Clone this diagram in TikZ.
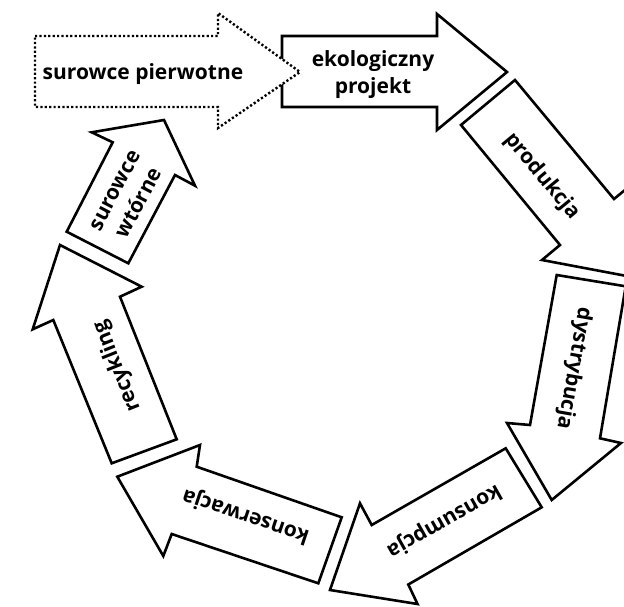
\documentclass[tikz,border=0pt]{standalone}
\usepackage{fontspec}
\setmainfont{Open Sans}
\begin{document}
\begin{tikzpicture}[x=1pt,y=-1pt,
  flow/.style={draw=black, line width=2.6pt, fill=white, line join=miter},
  feed/.style={flow, line width=2.4pt, dash pattern=on 2.2pt off 2.2pt},
  lbl/.style={font=\bfseries\fontsize{21}{27}\selectfont, align=center, inner sep=0pt, text depth=0pt}]
\useasboundingbox (0,0) rectangle (624,606);
\clip (0,0) rectangle (624,606);
\fill[white] (0,0) rectangle (624,606);

% the cycle, one arrow per stage
\draw[flow] (282,36) -- (437,36) -- (437,14) -- (507,72) -- (437,130) -- (437,107) -- (282,107) -- cycle;
\draw[flow] (461,125) -- (560,245) -- (542,260) -- (632,277) -- (631,185) -- (614,199) -- (515,80) -- cycle;
\draw[flow] (556.7,275) -- (530,425) -- (507,423) -- (551.7,500) -- (621,443) -- (600,438.3) -- (625.7,286.3) -- cycle;
\draw[flow] (505.7,448.3) -- (371.7,525) -- (360,503.3) -- (330,590) -- (417.5,604) -- (408.3,584.5) -- (541.7,507.3) -- cycle;
\draw[flow] (341.7,517.3) -- (196.7,466.7) -- (200,445) -- (117.3,476.7) -- (163.3,556) -- (171.7,534) -- (318.3,583.3) -- cycle;
\draw[flow] (111.7,463.3) -- (53.3,320) -- (32.7,329.3) -- (60,245) -- (141.7,286.7) -- (120,296.7) -- (176.7,439.3) -- cycle;
\draw[flow] (66.7,231.7) -- (112.7,142.3) -- (91.7,132.3) -- (164,120) -- (195,185.7) -- (175,175) -- (128.3,263.3) -- cycle;

% primary raw materials feeding in
\draw[feed] (35,36) -- (218,36) -- (218,13) -- (300,72) -- (218,128) -- (218,107) -- (35,107) -- cycle;

% labels
\node[lbl] (pierwotne) at (143,72) {surowce pierwotne};
\node[lbl] (projekt) at (373,72) {ekologiczny\\projekt};
\node[lbl, rotate=-50.5] (produkcja) at (544,175) {produkcja};
\node[lbl, rotate=-100] (dystrybucja) at (576,369) {dystrybucja};
\node[lbl, rotate=-150.5] (konsumpcja) at (445,523) {konsumpcja};
\node[lbl, rotate=161.5] (konserwacja) at (245,518) {konserwacja};
\node[lbl, rotate=111.7] (recykling) at (115,367) {recykling};
\node[lbl, rotate=62.3] (wtorne) at (127.5,197) {surowce\\wtórne};
\end{tikzpicture}
\end{document}
